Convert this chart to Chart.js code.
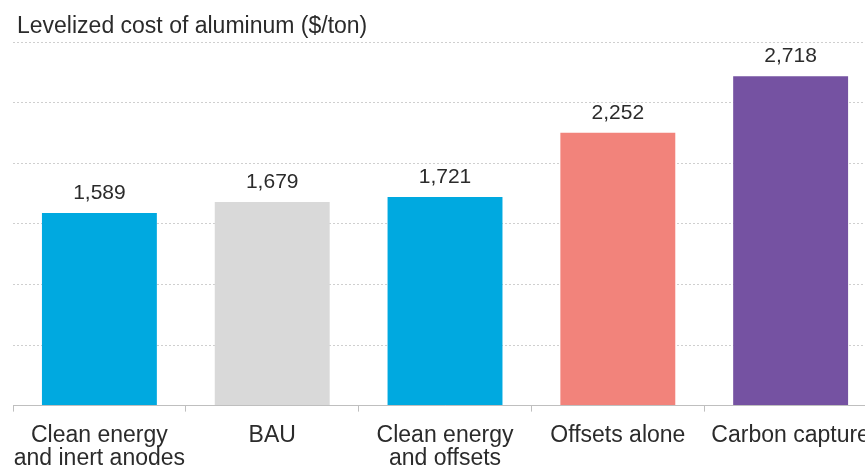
<!DOCTYPE html>
<html>
<head>
<meta charset="utf-8">
<script src="https://cdn.jsdelivr.net/npm/chart.js@4/dist/chart.umd.min.js"></script>
<style>
  html, body { margin: 0; padding: 0; background: #fff; overflow: hidden; }
  #wrap { width: 865px; height: 468px; overflow: hidden; position: relative; }
  canvas { display: block; }
</style>
</head>
<body>
<div id="wrap"><canvas id="chart" width="882" height="468"></canvas></div>
<script>
// Levelized cost of aluminum by decarbonization pathway
const categories = [
  ['Clean energy', 'and inert anodes'],
  'BAU',
  ['Clean energy', 'and offsets'],
  'Offsets alone',
  'Carbon capture'
];
const costs = [1589, 1679, 1721, 2252, 2718];
const barColors = ['#00A9E0', '#D9D9D9', '#00A9E0', '#F2837B', '#7552A2'];
const yTicks = { min: 0, max: 3000, step: 500 };
const titleText = 'Levelized cost of aluminum ($/ton)';

const FONT = '"Liberation Sans", Arial, Helvetica, sans-serif';
const TEXT = '#2B2B2B';

// Title at the top-left
const titlePlugin = {
  id: 'cornerTitle',
  afterDraw(chart) {
    const ctx = chart.ctx;
    ctx.save();
    ctx.font = '23px ' + FONT;
    ctx.fillStyle = TEXT;
    ctx.textAlign = 'left';
    ctx.textBaseline = 'alphabetic';
    ctx.fillText(titleText, 17, 33);
    ctx.restore();
  }
};

// Value labels above each bar
const valueLabels = {
  id: 'valueLabels',
  afterDatasetsDraw(chart) {
    const ctx = chart.ctx;
    const meta = chart.getDatasetMeta(0);
    const data = chart.data.datasets[0].data;
    ctx.save();
    ctx.font = '21px ' + FONT;
    ctx.fillStyle = TEXT;
    ctx.textAlign = 'center';
    ctx.textBaseline = 'alphabetic';
    meta.data.forEach((bar, i) => {
      ctx.fillText(data[i].toLocaleString('en-US'), bar.x, bar.y - 14);
    });
    ctx.restore();
  }
};

new Chart(document.getElementById('chart'), {
  type: 'bar',
  data: {
    labels: categories,
    datasets: [{
      data: costs,
      backgroundColor: barColors,
      borderWidth: 0,
      barPercentage: 0.665,
      categoryPercentage: 1.0
    }]
  },
  options: {
    responsive: false,
    animation: false,
    devicePixelRatio: 1,
    layout: { padding: { left: 13, right: 1, top: 42, bottom: -15 } },
    plugins: {
      legend: { display: false },
      title: { display: false },
      tooltip: { enabled: false }
    },
    scales: {
      x: {
        offset: true,
        grid: {
          display: true,
          drawOnChartArea: false,
          drawTicks: true,
          tickLength: 6,
          color: '#BFBFBF',
          offset: true
        },
        border: { display: true, color: '#BFBFBF', width: 1 },
        ticks: {
          color: TEXT,
          font: { family: FONT, size: 23, lineHeight: 1.03 },
          padding: 12,
          maxRotation: 0,
          autoSkip: false
        }
      },
      y: {
        min: yTicks.min,
        max: yTicks.max,
        ticks: { display: false, stepSize: yTicks.step },
        grid: {
          color: '#CFCFCF',
          lineWidth: 1,
          drawTicks: false
        },
        border: { display: false, dash: [2, 2] }
      }
    }
  },
  plugins: [titlePlugin, valueLabels]
});
</script>
</body>
</html>
